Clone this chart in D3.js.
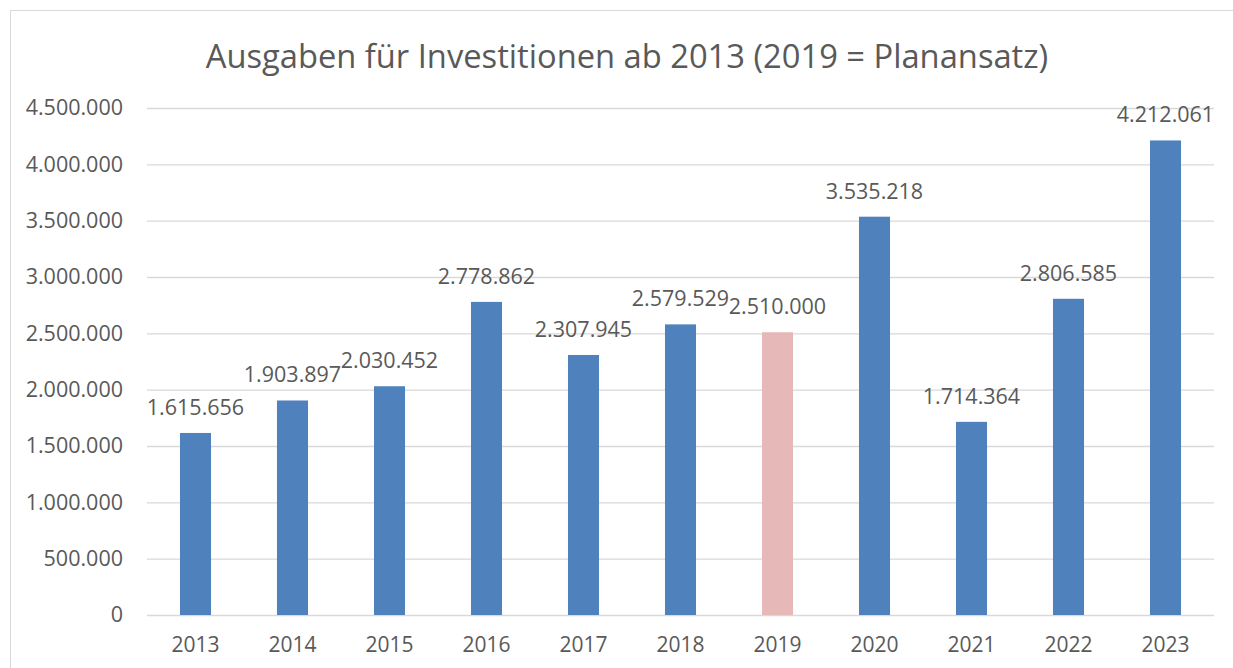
<!DOCTYPE html>
<html><head><meta charset="utf-8">
<script src="https://cdn.jsdelivr.net/npm/d3@7"></script>
<style>html,body{margin:0;padding:0;background:#fff;}svg{display:block;}</style>
</head><body>
<svg id="c" width="1233" height="668"></svg>
<script>
const categories = ["2013","2014","2015","2016","2017","2018","2019","2020","2021","2022","2023"];
const values = [1615656,1903897,2030452,2778862,2307945,2579529,2510000,3535218,1714364,2806585,4212061];
const planned = ["2019"];
const yTicks = [0,500000,1000000,1500000,2000000,2500000,3000000,3500000,4000000,4500000];
const title = "Ausgaben für Investitionen ab 2013 (2019 = Planansatz)";

const svg = d3.select("#c");
const font = "'Open Sans', sans-serif";
const textColor = "#595959";
const W = 1233, H = 668;
const m = {left:147, right:W-1214, top:108, bottom:H-615};

svg.append("rect").attr("x",10.5).attr("y",10.5).attr("width",W+20).attr("height",H+20)
  .attr("fill","#fff").attr("stroke","#d9d9d9").attr("stroke-width",1);

const x = d3.scaleBand().domain(categories).range([m.left, W-m.right]).paddingInner(0.68).paddingOuter(0.34);
const y = d3.scaleLinear().domain([0,4500000]).range([H-m.bottom, m.top]);
const fmt = v => d3.format(",")(v).replace(/,/g,".");

const ya = svg.append("g").attr("transform",`translate(${m.left},0)`)
  .call(d3.axisLeft(y).tickValues(yTicks).tickSize(-(W-m.left-m.right)).tickPadding(10).tickFormat(fmt));
ya.select(".domain").remove();
ya.selectAll(".tick line").attr("stroke","#d9d9d9").attr("stroke-width",1.3);
ya.selectAll(".tick text").attr("font-family",font).attr("font-size",21.5).attr("fill",textColor).attr("x",-24);

const xa = svg.append("g").attr("transform",`translate(0,${H-m.bottom})`)
  .call(d3.axisBottom(x).tickSize(0).tickPadding(22));
xa.select(".domain").remove();
xa.selectAll(".tick text").attr("font-family",font).attr("font-size",21).attr("fill",textColor);

svg.append("g").selectAll("rect").data(categories).join("rect")
  .attr("x",d=>x(d)).attr("width",x.bandwidth())
  .attr("y",(d,i)=>y(values[i])).attr("height",(d,i)=>y(0)-y(values[i]))
  .attr("fill",d=>planned.includes(d)?"#e6b9b8":"#4f81bd");

svg.append("g").selectAll("text").data(categories).join("text")
  .attr("x",d=>x(d)+x.bandwidth()/2).attr("y",(d,i)=>y(values[i])-18)
  .attr("text-anchor","middle").attr("font-family",font).attr("font-size",21.5).attr("fill",textColor)
  .text((d,i)=>fmt(values[i]));

svg.append("text").attr("x",627).attr("y",68).attr("text-anchor","middle")
  .attr("font-family",font).attr("font-size",32.7).attr("fill",textColor).text(title);
</script>
</body></html>
